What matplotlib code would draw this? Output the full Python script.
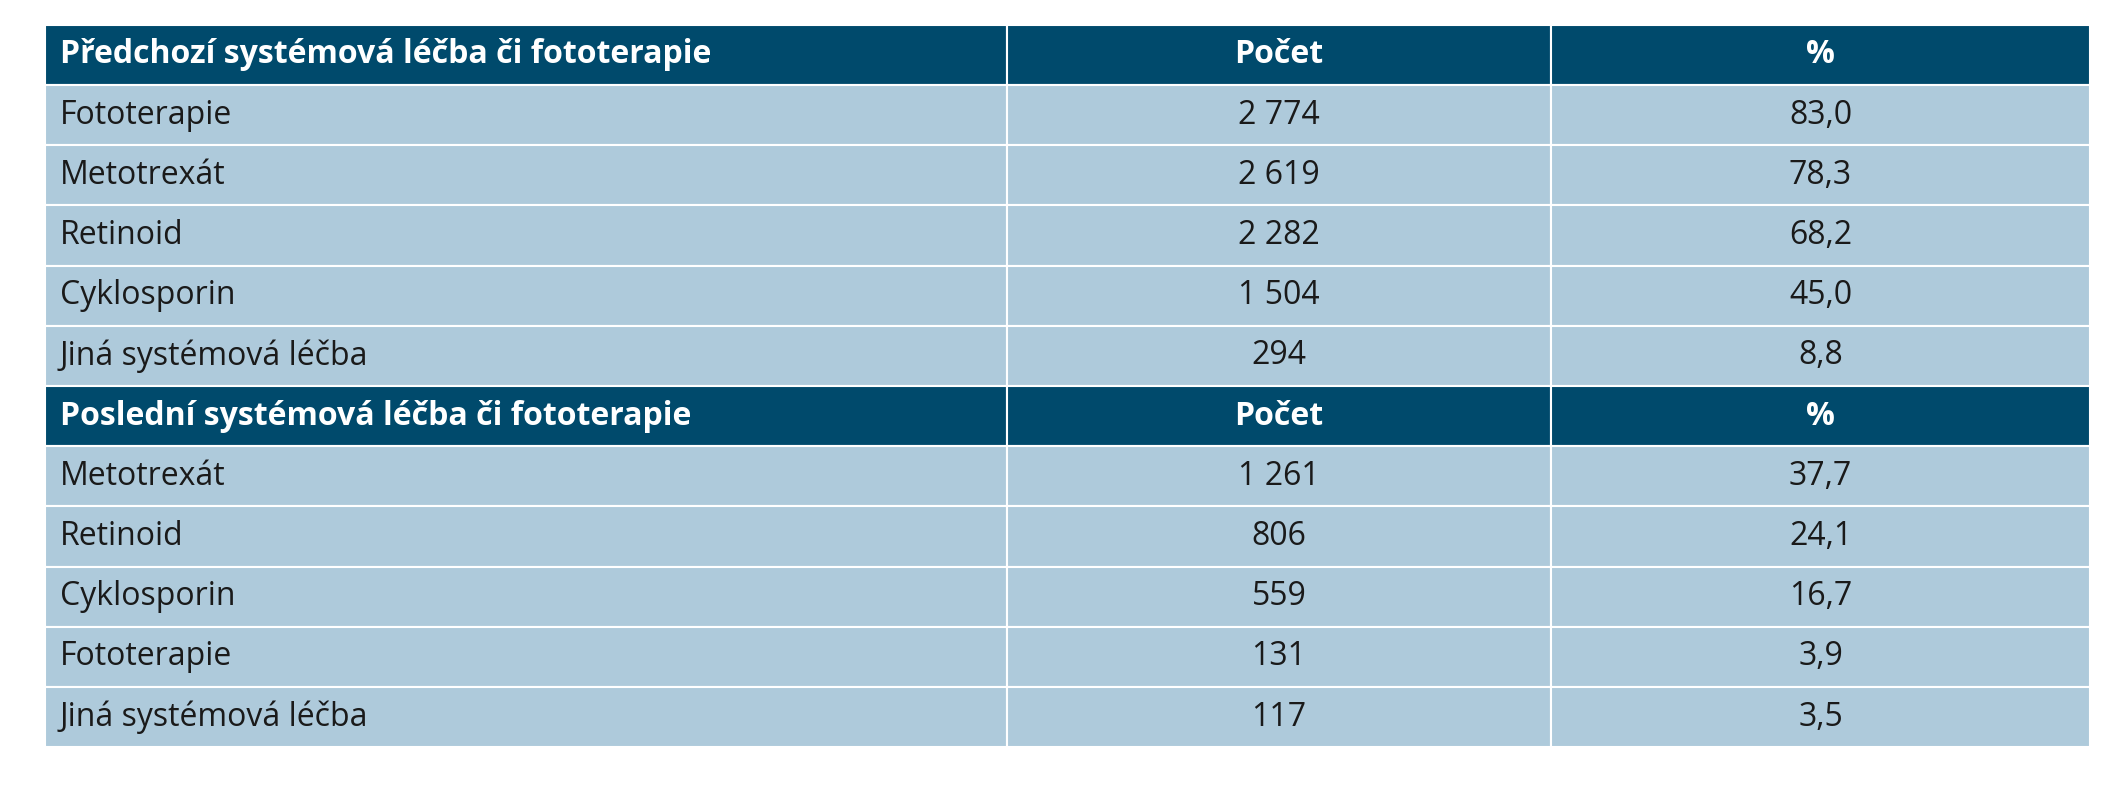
import matplotlib.pyplot as plt
from matplotlib.patches import Rectangle

plt.rcParams['font.family'] = ['Liberation Sans Narrow', 'Open Sans', 'DejaVu Sans']

header_1 = ["Předchozí systémová léčba či fototerapie", "Počet", "%"]
names_1 = ["Fototerapie", "Metotrexát", "Retinoid", "Cyklosporin", "Jiná systémová léčba"]
counts_1 = ["2 774", "2 619", "2 282", "1 504", "294"]
pcts_1 = ["83,0", "78,3", "68,2", "45,0", "8,8"]

header_2 = ["Poslední systémová léčba či fototerapie", "Počet", "%"]
names_2 = ["Metotrexát", "Retinoid", "Cyklosporin", "Fototerapie", "Jiná systémová léčba"]
counts_2 = ["1 261", "806", "559", "131", "117"]
pcts_2 = ["37,7", "24,1", "16,7", "3,9", "3,5"]

rows = [(header_1, True)]
rows += [([n, c, p], False) for n, c, p in zip(names_1, counts_1, pcts_1)]
rows += [(header_2, True)]
rows += [([n, c, p], False) for n, c, p in zip(names_2, counts_2, pcts_2)]

head_col = '#004a6c'
body_col = '#aecadb'
col_edges = [0.021, 0.473, 0.729, 0.982]
top, bottom = 0.969, 0.066
row_h = (top - bottom) / len(rows)

fig = plt.figure(figsize=(21.28, 8), dpi=100)
ax = fig.add_axes([0, 0, 1, 1])
ax.set_xlim(0, 1)
ax.set_ylim(0, 1)
ax.axis('off')

for i, (cells, is_head) in enumerate(rows):
    y0 = top - (i + 1) * row_h
    for j in range(3):
        x0, x1 = col_edges[j], col_edges[j + 1]
        ax.add_patch(Rectangle((x0, y0), x1 - x0, row_h,
                               facecolor=head_col if is_head else body_col,
                               edgecolor='white', linewidth=1.5))
        color = 'white' if is_head else '#1a1a1a'
        weight = 'bold' if is_head else 'normal'
        if j == 0:
            ax.text(x0 + 0.007, y0 + row_h / 2, cells[j], ha='left', va='center',
                    fontsize=23, color=color, fontweight=weight)
        else:
            ax.text((x0 + x1) / 2, y0 + row_h / 2, cells[j], ha='center', va='center',
                    fontsize=23, color=color, fontweight=weight)

fig.savefig('out.png', dpi=100, facecolor='white')
